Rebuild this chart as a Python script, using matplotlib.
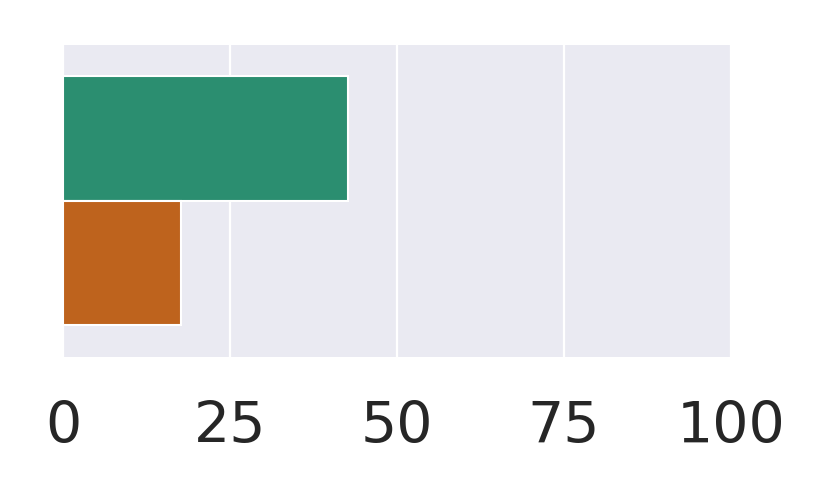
import numpy as np
import matplotlib
matplotlib.use("Agg")
import matplotlib.pyplot as plt
import seaborn as sns

# data
groups = ["first", "second"]
values = [42.7, 17.6]
base_colors = ["#1b9e77", "#d95f02"]
xticks = [0, 25, 50, 75, 100]

sns.set_style("darkgrid")
plt.rcParams['font.family'] = ['DejaVu Sans']

fig = plt.figure(figsize=(8.3, 4.98), dpi=100)
ax = fig.add_axes([63/830, 1-356.5/498, (731-63)/830, (356.5-45)/498])

colors = [sns.desaturate(c, 0.75) for c in base_colors]
n = len(groups)
width = 0.8 / n
pos = -0.4 + width/2 + width*np.arange(n)
ax.barh(pos, values, height=width, color=colors, edgecolor='white', linewidth=1.5, zorder=2)

ax.set_xlim(0, 100)
ax.set_ylim(0.5, -0.5)
ax.set_xticks(xticks)
ax.set_xticklabels([str(t) for t in xticks])
ax.set_yticks([])
ax.grid(axis='x', color='white', linewidth=1.6)
ax.grid(axis='y', visible=False)
ax.set_axisbelow(True)
ax.tick_params(axis='x', length=0, pad=31, labelsize=41, labelcolor='#262626')
for s in ax.spines.values():
    s.set_visible(False)

fig.savefig("out.png", dpi=100)
